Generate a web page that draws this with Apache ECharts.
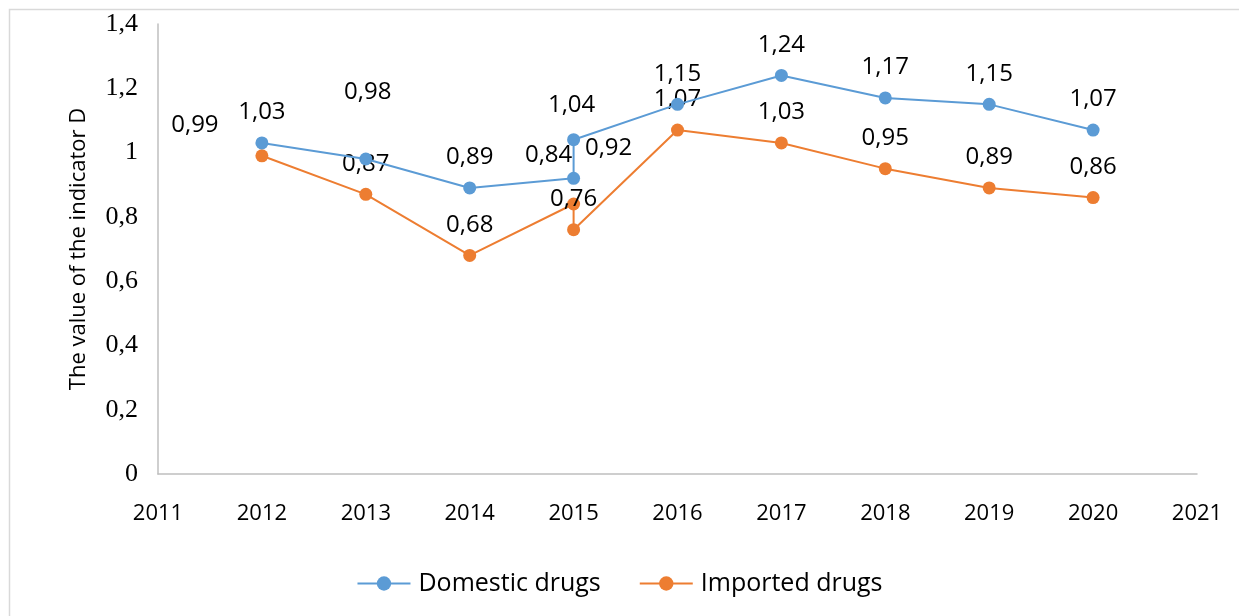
<!DOCTYPE html>
<html>
<head>
<meta charset="utf-8">
<script src="https://cdn.jsdelivr.net/npm/echarts@6/dist/echarts.min.js"></script>
<style>html,body{margin:0;padding:0;background:#fff;}#c{width:1239px;height:616px;}</style>
</head>
<body>
<div id="c"></div>
<script>
var domesticYears = [2012, 2013, 2014, 2015, 2015, 2016, 2017, 2018, 2019, 2020];
var domesticValues = [1.03, 0.98, 0.89, 0.92, 1.04, 1.15, 1.24, 1.17, 1.15, 1.07];
var importedYears = [2012, 2013, 2014, 2015, 2015, 2016, 2017, 2018, 2019, 2020];
var importedValues = [0.99, 0.87, 0.68, 0.84, 0.76, 1.07, 1.03, 0.95, 0.89, 0.86];
var seriesNames = ['Domestic drugs', 'Imported drugs'];
var yTitle = 'The value of the indicator D';

// label offset tweaks (style only), keyed by point index
var domesticLabelShift = {1: [2, -36], 3: [35, 0], 4: [-2, -4]};
var importedLabelShift = {0: [-67, 0], 3: [-25, -18]};

function comma(v) {
  return String(v).replace('.', ',');
}
function build(years, vals, shifts) {
  return years.map(function (y, i) {
    var item = {value: [y, vals[i]]};
    if (shifts[i]) item.label = {offset: shifts[i]};
    return item;
  });
}
var labelFont = '"Open Sans", "Noto Sans", sans-serif';

var chart = echarts.init(document.getElementById('c'));
chart.setOption({
  animation: false,
  backgroundColor: '#fff',
  grid: {left: 158, right: 42, top: 24, bottom: 142},
  legend: {
    bottom: 15,
    left: 'center',
    itemWidth: 53,
    itemHeight: 18,
    itemGap: 38,
    textStyle: {fontFamily: labelFont, fontSize: 25, color: '#000', padding: [0, 0, 0, 3]},
    data: seriesNames
  },
  xAxis: {
    type: 'value', min: 2011, max: 2021, interval: 1,
    axisLine: {show: true, lineStyle: {color: '#bfbfbf', width: 1.5}},
    axisTick: {show: false},
    splitLine: {show: false},
    axisLabel: {margin: 29, fontFamily: labelFont, fontSize: 22, color: '#000', formatter: function (v) { return String(v); }}
  },
  yAxis: {
    type: 'value', min: 0, max: 1.4, interval: 0.2,
    name: yTitle,
    nameLocation: 'middle',
    nameGap: 68,
    nameTextStyle: {fontFamily: labelFont, fontSize: 22, color: '#000'},
    axisLine: {show: true, lineStyle: {color: '#bfbfbf', width: 1.5}},
    axisTick: {show: false},
    splitLine: {show: false},
    axisLabel: {margin: 20, fontFamily: '"Liberation Serif", serif', fontSize: 26, color: '#000',
      formatter: function (v) { return comma(+v.toFixed(1)); }}
  },
  series: [
    {
      name: seriesNames[0], type: 'line',
      data: build(domesticYears, domesticValues, domesticLabelShift),
      symbol: 'circle', symbolSize: 13,
      itemStyle: {color: '#5b9bd5'},
      lineStyle: {color: '#5b9bd5', width: 2},
      label: {show: true, position: 'top', distance: 12, fontFamily: labelFont, fontSize: 24, color: '#000',
        formatter: function (p) { return comma(p.value[1].toFixed(2)); }},
      z: 3
    },
    {
      name: seriesNames[1], type: 'line',
      data: build(importedYears, importedValues, importedLabelShift),
      symbol: 'circle', symbolSize: 13,
      itemStyle: {color: '#ed7d31'},
      lineStyle: {color: '#ed7d31', width: 2},
      label: {show: true, position: 'top', distance: 12, fontFamily: labelFont, fontSize: 24, color: '#000',
        formatter: function (p) { return comma(p.value[1].toFixed(2)); }},
      z: 2
    }
  ],
  graphic: [
    {type: 'rect', left: 7, top: 7, shape: {width: 1300, height: 700}, style: {fill: 'none', stroke: '#d9d9d9', lineWidth: 1.5}, silent: true, z: -1}
  ]
});
</script>
</body>
</html>
